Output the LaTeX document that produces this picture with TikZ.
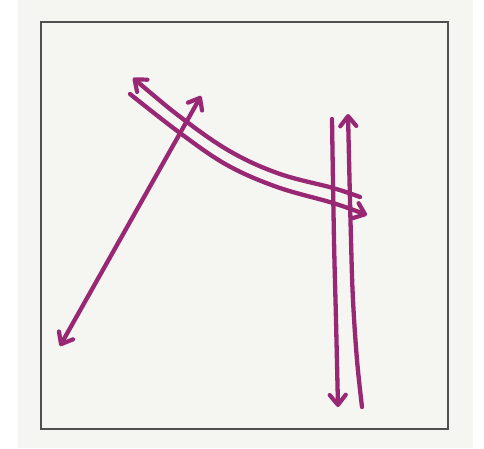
\documentclass[tikz,border=0pt]{standalone}
\usetikzlibrary{arrows.meta}
\definecolor{ink}{HTML}{982874}
\definecolor{paper}{HTML}{F5F5F2}
\definecolor{framec}{HTML}{505050}
\begin{document}
\begin{tikzpicture}[x=1pt,y=-1pt,
  >={Straight Barb[length=10pt,width=16pt,line width=4.2pt,round]},
  pen/.style={draw=ink,line width=4.3pt,line cap=round,line join=round}]
\useasboundingbox (0,0) rectangle (484,448);
\fill[white] (0,0) rectangle (484,448);
\fill[paper] (18,0) rectangle (473,448);
\draw[framec,line width=2.2pt] (41,22) rectangle (448,429);
% coordinates
\coordinate (dl) at (60,346);
\coordinate (ur) at (201,96);
% diagonal double arrow
\draw[pen,<->] (dl) -- (ur);
% upper curve, head at left
\draw[pen,<-] plot[smooth,tension=0.6] coordinates {(133,78) (187,122) (233,153) (280,174) (333,188) (360,197)};
% lower curve, head at right
\draw[pen,->] plot[smooth,tension=0.6] coordinates {(130,94) (180,133) (227,165) (277,187) (333,203) (367,215)};
% left vertical, head at bottom
\draw[pen,->] plot[smooth,tension=0.6] coordinates {(332,119) (334,240) (336,320) (338,407)};
% right vertical, head at top
\draw[pen,<-] plot[smooth,tension=0.6] coordinates {(348,114) (351,240) (353,300) (357,360) (362,407)};
\end{tikzpicture}
\end{document}
